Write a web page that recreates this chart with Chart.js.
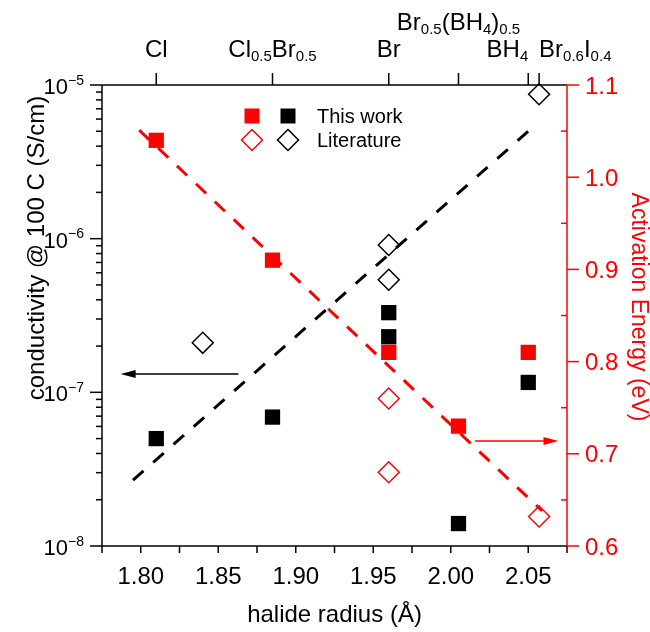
<!DOCTYPE html>
<html>
<head>
<meta charset="utf-8">
<script src="https://cdn.jsdelivr.net/npm/chart.js@4.4.0/dist/chart.umd.min.js"></script>
<style>
  body { margin: 0; background: #fff; }
  #wrap { width: 650px; height: 632px; }
</style>
</head>
<body>
<div id="wrap"><canvas id="myChart" width="650" height="632"></canvas></div>
<script>
// ---- data ----
// conductivity @ 100 C, this work (black squares)
const workCondX = [1.81, 1.885, 1.96, 1.96, 2.005, 2.05];
const workCondY = [5.0e-8, 6.9e-8, 3.3e-7, 2.3e-7, 1.4e-8, 1.16e-7];
// conductivity, literature (black diamonds)
const litCondX = [1.84, 1.96, 1.96, 2.057];
const litCondY = [2.1e-7, 9.1e-7, 5.4e-7, 8.7e-6];
// activation energy, this work (red squares)
const workEaX = [1.81, 1.885, 1.96, 2.005, 2.05];
const workEaY = [1.04, 0.91, 0.81, 0.73, 0.81];
// activation energy, literature (red diamonds)
const litEaX = [1.96, 1.96, 2.057];
const litEaY = [0.76, 0.68, 0.632];
// dashed trend lines
const condFitX = [1.795, 2.051];
const condFitY = [2.68e-8, 5.1e-6];
const eaFitX = [1.799, 2.059];
const eaFitY = [1.051, 0.638];
// arrows pointing to the axes
const condArrowX = [1.863, 1.787];
const condArrowY = 1.315e-7;
const eaArrowX = [2.0157, 2.0695];
const eaArrowY = 0.714;

// ---- axes ----
const xTicks = [1.80, 1.85, 1.90, 1.95, 2.00, 2.05];
const xTickLabels = ['1.80', '1.85', '1.90', '1.95', '2.00', '2.05'];
const xMinorTicks = [1.775, 1.825, 1.875, 1.925, 1.975, 2.025, 2.075];
const condTicks = [1e-8, 1e-7, 1e-6, 1e-5];
const condTickLabels = ['10^{\u22128}', '10^{\u22127}', '10^{\u22126}', '10^{\u22125}'];
const eaTicks = [0.6, 0.7, 0.8, 0.9, 1.0, 1.1];
const eaTickLabels = ['0.6', '0.7', '0.8', '0.9', '1.0', '1.1'];
const eaMinorTicks = [0.65, 0.75, 0.85, 0.95, 1.05];
const topTicks = [1.81, 1.885, 1.96, 2.005, 2.05, 2.057];
const topLabels = ['Cl', 'Cl_{0.5}Br_{0.5}', 'Br', 'Br_{0.5}(BH_{4})_{0.5}', 'BH_{4}', 'Br_{0.6}I_{0.4}'];
// label placement for the top axis (alignment and row)
const topAlign = ['center', 'center', 'center', 'center', 'right', 'left'];
const topRow = [0, 0, 0, 1, 0, 0];

const FONT = '"Liberation Sans", Arial, sans-serif';
const RED = '#ff0000';

function toPts(xs, ys) {
    return xs.map((x, i) => ({ x: x, y: ys[i] }));
}

// text with _{sub} and ^{sup}
function drawRich(ctx, s, x, y, align, size) {
    const parts = [];
    const re = /([_^])\{([^}]*)\}|([^_^]+)/g;
    let m;
    while ((m = re.exec(s))) {
        if (m[3]) parts.push({ t: m[3], k: 0 });
        else parts.push({ t: m[2], k: m[1] === '_' ? -1 : 1 });
    }
    const small = Math.round(size * 0.64);
    let w = 0;
    parts.forEach(p => {
        ctx.font = (p.k ? small : size) + 'px ' + FONT;
        p.w = ctx.measureText(p.t).width;
        w += p.w;
    });
    let cx = align === 'center' ? x - w / 2 : (align === 'right' ? x - w : x);
    ctx.textAlign = 'left';
    ctx.textBaseline = 'alphabetic';
    parts.forEach(p => {
        ctx.font = (p.k ? small : size) + 'px ' + FONT;
        const dy = p.k < 0 ? size * 0.18 : (p.k > 0 ? -size * 0.42 : 0);
        ctx.fillText(p.t, cx, y + dy);
        cx += p.w;
    });
}

function seg(ctx, x1, y1, x2, y2) {
    ctx.beginPath();
    ctx.moveTo(x1, y1);
    ctx.lineTo(x2, y2);
    ctx.stroke();
}

function arrow(ctx, x1, y, x2, color) {
    const dir = x2 > x1 ? 1 : -1;
    ctx.strokeStyle = color;
    ctx.fillStyle = color;
    ctx.lineWidth = 1.5;
    seg(ctx, x1, y, x2 - dir * 12, y);
    ctx.beginPath();
    ctx.moveTo(x2, y);
    ctx.lineTo(x2 - dir * 15, y - 4);
    ctx.lineTo(x2 - dir * 15, y + 4);
    ctx.closePath();
    ctx.fill();
}

// axes frame, ticks and labels
const axesPlugin = {
    id: 'axesPlugin',
    beforeDatasetsDraw(chart) {
        const ctx = chart.ctx;
        const { left, right, top, bottom } = chart.chartArea;
        const sx = chart.scales.x, sy = chart.scales.y, sy2 = chart.scales.y2;
        ctx.save();
        ctx.lineWidth = 1.5;
        ctx.strokeStyle = '#000';
        seg(ctx, left, top, right, top);
        seg(ctx, left, bottom, right, bottom);
        seg(ctx, left, top, left, bottom);

        // bottom axis
        xTicks.concat(xMinorTicks).forEach(v => {
            const px = sx.getPixelForValue(v);
            seg(ctx, px, bottom, px, bottom + 7);
        });
        ctx.fillStyle = '#000';
        ctx.font = '24px ' + FONT;
        ctx.textAlign = 'center';
        ctx.textBaseline = 'alphabetic';
        xTicks.forEach((v, i) => {
            ctx.fillText(xTickLabels[i], sx.getPixelForValue(v), bottom + 38);
        });
        ctx.fillText('halide radius (\u00c5)', (left + right) / 2, bottom + 76);

        // top axis
        topTicks.forEach((v, i) => {
            const px = sx.getPixelForValue(v);
            seg(ctx, px, top, px, top - 12);
            drawRich(ctx, topLabels[i], px, topRow[i] ? top - 55 : top - 28, topAlign[i], 24);
        });

        // left log axis
        condTicks.forEach((v, i) => {
            const py = sy.getPixelForValue(v);
            seg(ctx, left, py, left - 12, py);
            drawRich(ctx, condTickLabels[i], left - 18, py + 9, 'right', 22);
        });
        for (let d = -8; d < -5; d++) {
            for (let k = 2; k < 10; k++) {
                const py = sy.getPixelForValue(k * Math.pow(10, d));
                seg(ctx, left, py, left - 6, py);
            }
        }
        ctx.save();
        ctx.translate(44, 248);
        ctx.rotate(-Math.PI / 2);
        ctx.font = '24px ' + FONT;
        ctx.textAlign = 'center';
        ctx.fillText('conductivity @ 100 C (S/cm)', 0, 0);
        ctx.restore();

        // right axis
        ctx.strokeStyle = RED;
        ctx.fillStyle = RED;
        seg(ctx, right, top, right, bottom);
        ctx.font = '24px ' + FONT;
        ctx.textAlign = 'left';
        eaTicks.forEach((v, i) => {
            const py = sy2.getPixelForValue(v);
            seg(ctx, right, py, right + 12, py);
            ctx.fillText(eaTickLabels[i], right + 18, py + 8.5);
        });
        eaMinorTicks.forEach(v => {
            const py = sy2.getPixelForValue(v);
            seg(ctx, right, py, right - 6, py);
        });
        ctx.save();
        ctx.translate(632, 307);
        ctx.rotate(Math.PI / 2);
        ctx.font = '23px ' + FONT;
        ctx.textAlign = 'center';
        ctx.fillText('Activation Energy (eV)', 0, 0);
        ctx.restore();
        ctx.restore();
    },
    afterDatasetsDraw(chart) {
        const ctx = chart.ctx;
        const sx = chart.scales.x, sy = chart.scales.y, sy2 = chart.scales.y2;
        ctx.save();
        arrow(ctx, sx.getPixelForValue(condArrowX[0]), sy.getPixelForValue(condArrowY),
            sx.getPixelForValue(condArrowX[1]), '#000');
        arrow(ctx, sx.getPixelForValue(eaArrowX[0]), sy2.getPixelForValue(eaArrowY),
            sx.getPixelForValue(eaArrowX[1]), RED);

        // legend
        const rows = [{ y: 116, text: 'This work', sq: true }, { y: 140, text: 'Literature', sq: false }];
        rows.forEach(r => {
            [[252, RED], [288, '#000']].forEach(([mx, c]) => {
                if (r.sq) {
                    ctx.fillStyle = c;
                    ctx.fillRect(mx - 7.5, r.y - 7.5, 15, 15);
                } else {
                    ctx.strokeStyle = c;
                    ctx.lineWidth = 1.5;
                    ctx.beginPath();
                    ctx.moveTo(mx, r.y - 10.5);
                    ctx.lineTo(mx + 10.5, r.y);
                    ctx.lineTo(mx, r.y + 10.5);
                    ctx.lineTo(mx - 10.5, r.y);
                    ctx.closePath();
                    ctx.stroke();
                }
            });
            ctx.fillStyle = '#000';
            ctx.font = '20px ' + FONT;
            ctx.textAlign = 'left';
            ctx.textBaseline = 'middle';
            ctx.fillText(r.text, 317, r.y + 1);
        });
        ctx.restore();
    }
};

const ctx = document.getElementById('myChart').getContext('2d');
const chart = new Chart(ctx, {
    type: 'scatter',
    data: {
        datasets: [
            {
                label: 'conductivity fit',
                type: 'line',
                data: toPts(condFitX, condFitY),
                yAxisID: 'y',
                borderColor: '#000',
                borderWidth: 3,
                borderDash: [14, 13],
                pointRadius: 0,
                fill: false,
                clip: false,
                order: 1
            },
            {
                label: 'Ea fit',
                type: 'line',
                data: toPts(eaFitX, eaFitY),
                yAxisID: 'y2',
                borderColor: RED,
                borderWidth: 3,
                borderDash: [14, 12],
                pointRadius: 0,
                fill: false,
                clip: false,
                order: 1
            },
            {
                label: 'Ea this work',
                data: toPts(workEaX, workEaY),
                yAxisID: 'y2',
                pointStyle: 'rect',
                pointRadius: 10.8,
                backgroundColor: RED,
                borderColor: RED,
                borderWidth: 0,
                clip: false,
                order: 2
            },
            {
                label: 'Ea literature',
                data: toPts(litEaX, litEaY),
                yAxisID: 'y2',
                pointStyle: 'rectRot',
                pointRadius: 10.5,
                backgroundColor: 'rgba(0,0,0,0)',
                borderColor: RED,
                borderWidth: 1.5,
                clip: false,
                order: 2
            },
            {
                label: 'conductivity this work',
                data: toPts(workCondX, workCondY),
                yAxisID: 'y',
                pointStyle: 'rect',
                pointRadius: 10.8,
                backgroundColor: '#000',
                borderColor: '#000',
                borderWidth: 0,
                clip: false,
                order: 3
            },
            {
                label: 'conductivity literature',
                data: toPts(litCondX, litCondY),
                yAxisID: 'y',
                pointStyle: 'rectRot',
                pointRadius: 10.5,
                backgroundColor: 'rgba(0,0,0,0)',
                borderColor: '#000',
                borderWidth: 1.5,
                clip: false,
                order: 3
            }
        ]
    },
    options: {
        responsive: false,
        animation: false,
        devicePixelRatio: 1,
        layout: { padding: { left: 102, right: 83, top: 85, bottom: 86 } },
        scales: {
            x: { type: 'linear', min: 1.775, max: 2.075, display: false },
            y: { type: 'logarithmic', min: 1e-8, max: 1e-5, display: false },
            y2: { type: 'linear', min: 0.6, max: 1.1, display: false }
        },
        plugins: {
            legend: { display: false },
            tooltip: { enabled: false }
        }
    },
    plugins: [axesPlugin]
});
</script>
</body>
</html>
